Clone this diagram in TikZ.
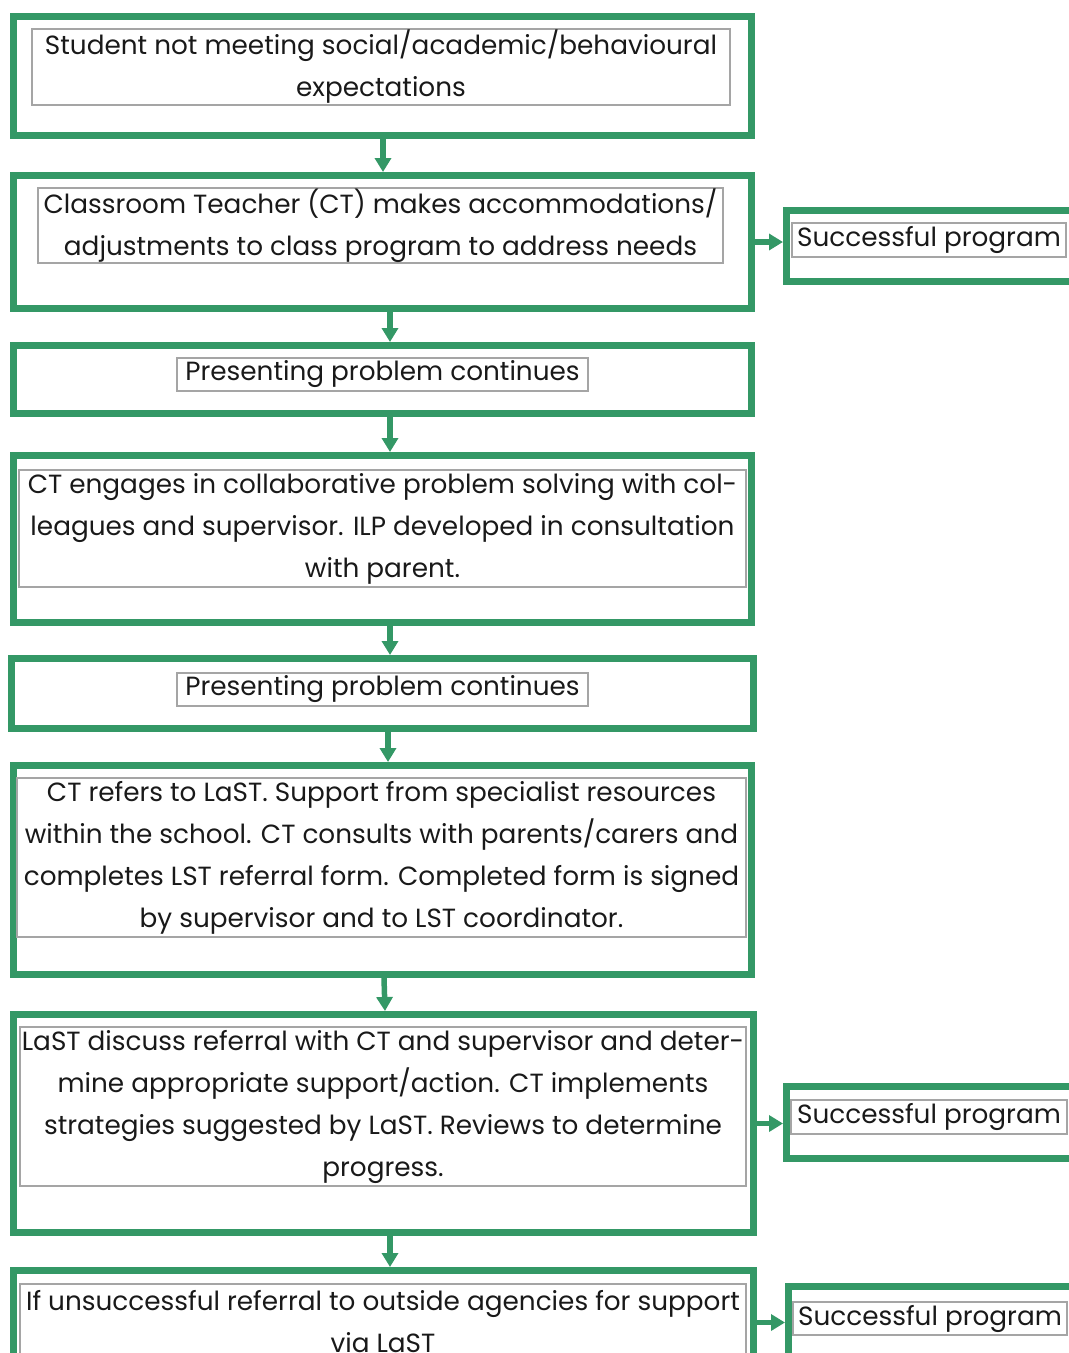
\documentclass[tikz,border=0pt]{standalone}
\usepackage{fontspec}
\setmainfont{Poppins}
\usetikzlibrary{arrows.meta}
\definecolor{grn}{RGB}{52,152,102}
\definecolor{gry}{RGB}{165,165,165}
\begin{document}
\begin{tikzpicture}[x=1pt,y=-1pt,
 outerbox/.style={draw=grn,line width=7pt,rectangle,inner sep=0pt},
 txtbox/.style={draw=gry,line width=1.5pt,rectangle,inner sep=0pt,align=center,font=\fontsize{26.3}{42}\selectfont,text=black!90},
 arr/.style={draw=grn,line width=5.5pt,-{Triangle[width=16pt,length=14pt]}}]
\useasboundingbox (0,0) rectangle (1069,1353);
\clip (0,0) rectangle (1069,1353);
% outer green boxes
\node[outerbox,minimum width=738,minimum height=119] (b1) at (382.5,76) {};
\node[outerbox,minimum width=738,minimum height=133] (b2) at (382.5,242) {};
\node[outerbox,minimum width=738,minimum height=68] (b3) at (382.5,379.5) {};
\node[outerbox,minimum width=738,minimum height=167] (b4) at (382.5,539) {};
\node[outerbox,minimum width=742,minimum height=70] (b5) at (382.5,693.5) {};
\node[outerbox,minimum width=738,minimum height=209] (b6) at (382.5,870) {};
\node[outerbox,minimum width=740,minimum height=218] (b7) at (383.5,1123.5) {};
\node[outerbox,minimum width=740,minimum height=166] (b8) at (383.5,1353.5) {};
\node[outerbox,minimum width=290,minimum height=71] (s1) at (931.5,246) {};
\node[outerbox,minimum width=290,minimum height=72] (s2) at (931.5,1122.5) {};
\node[outerbox,minimum width=288,minimum height=72] (s3) at (932.5,1322.5) {};
% text boxes
\node[txtbox,minimum width=698,minimum height=76] (t1) at (381,67) {Student not meeting social/academic/behavioural\\expectations};
\node[txtbox,minimum width=685,minimum height=75] (t2) at (380.5,225.5) {Classroom Teacher (CT) makes accommodations/\\adjustments to class program to address needs};
\node[txtbox,minimum width=411,minimum height=33] (t3) at (382.5,374.5) {Presenting problem continues};
\node[txtbox,minimum width=727,minimum height=117] (t4) at (382.5,528.5) {CT engages in collaborative problem solving with col-\\leagues and supervisor. ILP developed in consultation\\with parent.};
\node[txtbox,minimum width=411,minimum height=33] (t5) at (382.5,689.5) {Presenting problem continues};
\node[txtbox,minimum width=729,minimum height=159] (t6) at (381.5,857.5) {CT refers to LaST. Support from specialist resources\\within the school. CT consults with parents/carers and\\completes LST referral form. Completed form is signed\\by supervisor and to LST coordinator.};
\node[txtbox,minimum width=726,minimum height=159] (t7) at (383,1106.5) {LaST discuss referral with CT and supervisor and deter-\\mine appropriate support/action. CT implements\\strategies suggested by LaST. Reviews to determine\\progress.};
\node[txtbox,minimum width=726,minimum height=76] (t8) at (383,1322) {If unsuccessful referral to outside agencies for support\\via LaST};
\node[txtbox,minimum width=274,minimum height=34] (u1) at (929,240) {Successful program};
\node[txtbox,minimum width=276,minimum height=34] (u2) at (929,1117) {Successful program};
\node[txtbox,minimum width=274,minimum height=33] (u3) at (930,1318.5) {Successful program};
% connectors
\draw[arr] ([xshift=0.5pt]b1.south) -- ([xshift=0.5pt]b2.north);
\draw[arr] ([xshift=7.5pt]b2.south) -- ([xshift=7.5pt]b3.north);
\draw[arr] ([xshift=7.5pt]b3.south) -- ([xshift=7.5pt]b4.north);
\draw[arr] ([xshift=7.5pt]b4.south) -- ([xshift=7.5pt]b5.north);
\draw[arr] ([xshift=5.5pt]b5.south) -- ([xshift=5.5pt]b6.north);
\draw[arr] ([xshift=1.5pt]b6.south) -- ([xshift=1.5pt]b7.north);
\draw[arr] ([xshift=6.5pt]b7.south) -- ([xshift=6.5pt]b8.north);
\draw[arr] (b2.east) -- (b2.east -| s1.west);
\draw[arr] (b7.east) -- (b7.east -| s2.west);
\draw[arr] (b8.east |- s3.west) -- (s3.west);
\end{tikzpicture}
\end{document}
